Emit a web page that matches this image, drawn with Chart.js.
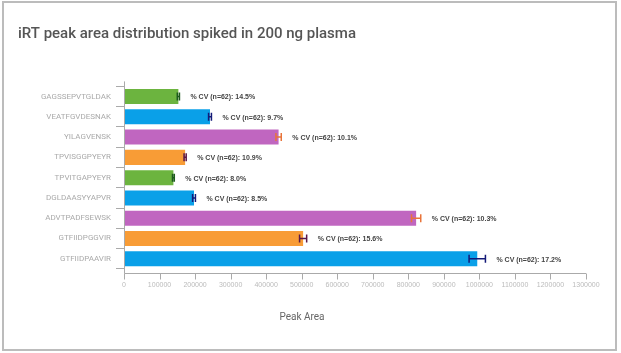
<!DOCTYPE html>
<html>
<head>
<meta charset="utf-8">
<script src="https://cdn.jsdelivr.net/npm/chart.js@4"></script>
<style>
  html, body { margin: 0; padding: 0; background: #fff; }
  #wrap { position: relative; width: 621px; height: 353px; }
  #frame { position: absolute; left: 2px; top: 1px; width: 615px; height: 350px; box-sizing: border-box; border: 2px solid #bcbcbc; pointer-events: none; }
</style>
</head>
<body>
<div id="wrap">
  <canvas id="chart"></canvas>
  <div id="frame"></div>
</div>
<script>
var peptides = ['GAGSSEPVTGLDAK', 'VEATFGVDESNAK', 'YILAGVENSK', 'TPVISGGPYEYR', 'TPVITGAPYEYR',
                'DGLDAASYYAPVR', 'ADVTPADFSEWSK', 'GTFIIDPGGVIR', 'GTFIIDPAAVIR'];
var peakArea = [153000, 242000, 435000, 172000, 139000, 197000, 822000, 504000, 994000];
var peakErr = [3000, 4000, 7500, 3000, 2500, 4000, 13000, 10000, 23000];
var cvPercent = [14.5, 9.7, 10.1, 10.9, 8.0, 8.5, 10.3, 15.6, 17.2];
var nRuns = 62;
var xMax = 1300000, xStep = 100000;

var barColors = ['#6cb43f', '#0aa0e8', '#c066c0', '#f89c36', '#6cb43f', '#0aa0e8', '#c066c0', '#f89c36', '#0aa0e8'];
var errColors = ['#1d5a1d', '#141a78', '#e8743a', '#5a1848', '#1d5a1d', '#141a78', '#e8743a', '#5a1848', '#141a78'];

// axis lines stick out a bit past the bars, like the original
var axisLines = {
    id: 'axisLines',
    afterDraw: function (chart) {
        var ctx = chart.ctx, a = chart.chartArea, x = chart.scales.x;
        var base = Math.round(a.bottom + 4) + 0.5;
        var left = Math.round(a.left) + 0.5;
        ctx.save();
        ctx.strokeStyle = '#aaaaaa';
        ctx.lineWidth = 1;
        ctx.beginPath();
        ctx.moveTo(left, a.top - 5);
        ctx.lineTo(left, base);
        ctx.lineTo(a.right, base);
        x.ticks.forEach(function (t) {
            var px = Math.round(x.getPixelForValue(t.value)) + 0.5;
            ctx.moveTo(px, base);
            ctx.lineTo(px, base + 6);
        });
        ctx.stroke();
        ctx.restore();
    }
};

var errorBars = {
    id: 'errorBars',
    afterDatasetsDraw: function (chart) {
        var ctx = chart.ctx, x = chart.scales.x;
        var meta = chart.getDatasetMeta(0);
        ctx.save();
        meta.data.forEach(function (bar, i) {
            var lo = x.getPixelForValue(peakArea[i] - peakErr[i]);
            var hi = x.getPixelForValue(peakArea[i] + peakErr[i]);
            var y = bar.y;
            ctx.strokeStyle = errColors[i];
            ctx.lineWidth = 1.5;
            ctx.beginPath();
            ctx.moveTo(lo, y); ctx.lineTo(hi, y);
            ctx.moveTo(lo, y - 4); ctx.lineTo(lo, y + 4);
            ctx.moveTo(hi, y - 4); ctx.lineTo(hi, y + 4);
            ctx.stroke();
            ctx.fillStyle = '#444';
            ctx.font = 'bold 7px "Liberation Sans"';
            ctx.textBaseline = 'middle';
            ctx.fillText('% CV (n=' + nRuns + '): ' + cvPercent[i].toFixed(1) + '%', hi + 11, y + 1);
        });
        ctx.restore();
    }
};

new Chart(document.getElementById('chart'), {
    type: 'bar',
    data: {
        labels: peptides,
        datasets: [{
            data: peakArea,
            backgroundColor: barColors,
            barPercentage: 0.74,
            categoryPercentage: 1
        }]
    },
    options: {
        indexAxis: 'y',
        responsive: true,
        maintainAspectRatio: false,
        animation: false,
        layout: { padding: { left: 18, right: 35 } },
        plugins: {
            legend: { display: false },
            tooltip: { enabled: false },
            title: {
                display: true,
                text: 'iRT peak area distribution spiked in 200 ng plasma',
                align: 'start',
                color: '#555',
                font: { family: 'Roboto', size: 15, weight: 500 },
                padding: { top: 25, bottom: 43.4 }
            },
            subtitle: {
                display: true,
                position: 'bottom',
                text: 'Peak Area',
                color: '#666',
                font: { family: 'Roboto', size: 10 },
                padding: { top: 9.7, bottom: 30 }
            }
        },
        scales: {
            x: {
                min: 0,
                max: xMax,
                grid: { display: false, drawTicks: false },
                border: { display: false },
                ticks: {
                    stepSize: xStep,
                    autoSkip: false,
                    maxRotation: 0,
                    padding: 12,
                    color: '#bbb',
                    font: { family: '"Liberation Sans"', size: 7 },
                    callback: function (v) { return String(v); }
                }
            },
            y: {
                afterFit: function (s) { s.width = 106; },
                grid: { drawOnChartArea: false, tickLength: 8, color: '#aaa' },
                border: { display: false },
                ticks: {
                    padding: 5,
                    color: '#aaa',
                    font: { family: 'Roboto', size: 8 }
                }
            }
        }
    },
    plugins: [axisLines, errorBars]
});
</script>
</body>
</html>
